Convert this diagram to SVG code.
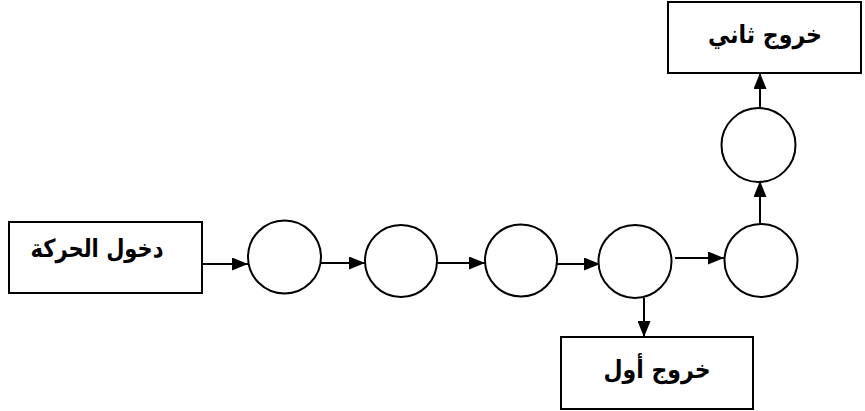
<svg xmlns="http://www.w3.org/2000/svg" width="865" height="411" viewBox="0 0 865 411">
<style>
.box{fill:#fff;stroke:#000;stroke-width:2}
.c{fill:#fff;stroke:#000;stroke-width:2}
.lbl{font-family:"DejaVu Sans",sans-serif;font-weight:bold;font-size:25px;fill:#000;text-anchor:middle}
.e{stroke:#000;stroke-width:2;fill:none;marker-end:url(#ah)}
</style>
<defs>
<marker id="ah" markerWidth="16" markerHeight="13" refX="16" refY="6.5" orient="auto" markerUnits="userSpaceOnUse">
<path d="M0,0 L16,6.5 L0,13 Z" fill="#000"/>
</marker>
</defs>
<rect width="865" height="411" fill="#fff"/>
<g id="connectors">
<line class="e" x1="199" y1="264" x2="248" y2="264"/>
<line class="e" x1="320" y1="263" x2="365" y2="263"/>
<line class="e" x1="437" y1="263" x2="485" y2="263"/>
<line class="e" x1="555" y1="264" x2="600" y2="264"/>
<line class="e" x1="675" y1="258" x2="724" y2="258"/>
<line class="e" x1="760" y1="224" x2="760" y2="181"/>
<line class="e" x1="760" y1="108" x2="760" y2="73"/>
<line class="e" x1="644" y1="298" x2="644" y2="337"/>
</g>
<g id="entry">
<rect class="box" x="9" y="222" width="193" height="71"/>
<text class="lbl" x="97" y="257" textLength="133" lengthAdjust="spacingAndGlyphs">دخول الحركة</text>
</g>
<g id="n1"><circle class="c" cx="284.5" cy="257" r="36.5"/></g>
<g id="n2"><circle class="c" cx="401" cy="261" r="36"/></g>
<g id="n3"><circle class="c" cx="521" cy="260.5" r="36"/></g>
<g id="n4"><circle class="c" cx="635" cy="261.5" r="36.5"/></g>
<g id="n5"><circle class="c" cx="761" cy="260.5" r="36.5"/></g>
<g id="n6"><circle class="c" cx="758.5" cy="145" r="37"/></g>
<g id="exit2">
<rect class="box" x="668" y="2" width="193" height="71"/>
<text class="lbl" x="765" y="43" textLength="114" lengthAdjust="spacingAndGlyphs">خروج ثاني</text>
</g>
<g id="exit1">
<rect class="box" x="561" y="337" width="192" height="72"/>
<text class="lbl" x="657" y="378" textLength="107" lengthAdjust="spacingAndGlyphs">خروج أول</text>
</g>
</svg>
